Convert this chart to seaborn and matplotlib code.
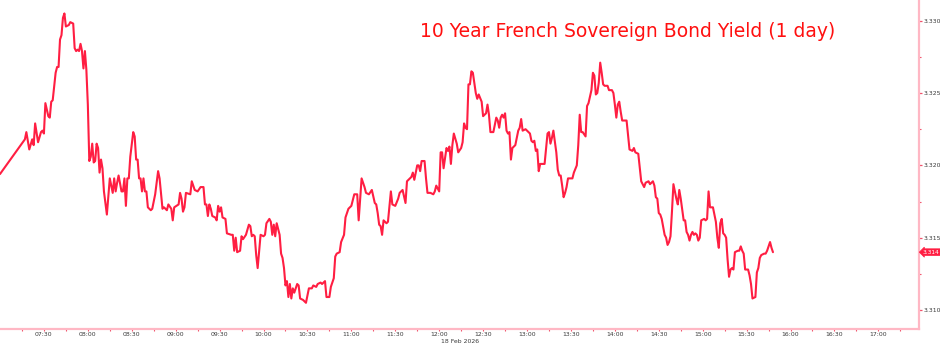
import matplotlib
matplotlib.use("Agg")
import matplotlib.pyplot as plt
import matplotlib.dates as mdates
from matplotlib.ticker import MultipleLocator, FormatStrFormatter
import seaborn as sns
import pandas as pd

# ---------------- data ----------------
DAY = "2026-02-18"
TITLE = "10 Year French Sovereign Bond Yield (1 day)"
DATE_LABEL = "18 Feb 2026"
LAST_LABEL = "3.314"

times = [
    "07:00", "07:17", "07:18", "07:20", "07:22", "07:23", "07:24", "07:26", "07:28", "07:29",
    "07:30", "07:31", "07:33", "07:34", "07:35", "07:36", "07:38", "07:39", "07:40", "07:41",
    "07:42", "07:43", "07:44", "07:45", "07:47", "07:48", "07:50", "07:51", "07:52", "07:53",
    "07:54", "07:55", "07:56", "07:57", "07:58", "07:59", "08:00", "08:01", "08:02", "08:03",
    "08:04", "08:05", "08:06", "08:07", "08:08", "08:09", "08:10", "08:11", "08:13", "08:15",
    "08:16", "08:17", "08:18", "08:19", "08:20", "08:21", "08:23", "08:24", "08:25", "08:26",
    "08:27", "08:28", "08:29", "08:31", "08:32", "08:33", "08:34", "08:35", "08:36", "08:37",
    "08:38", "08:39", "08:40", "08:41", "08:43", "08:44", "08:46", "08:48", "08:49", "08:51",
    "08:52", "08:54", "08:55", "08:57", "08:58", "08:59", "09:02", "09:03", "09:04", "09:05",
    "09:06", "09:07", "09:10", "09:11", "09:13", "09:15", "09:17", "09:19", "09:20", "09:21",
    "09:22", "09:23", "09:24", "09:25", "09:27", "09:28", "09:29", "09:30", "09:31", "09:32",
    "09:34", "09:35", "09:38", "09:39", "09:40", "09:41", "09:42", "09:44", "09:45", "09:46",
    "09:48", "09:50", "09:51", "09:52", "09:53", "09:54", "09:55", "09:56", "09:58", "10:00",
    "10:01", "10:02", "10:04", "10:05", "10:06", "10:07", "10:08", "10:09", "10:11", "10:12",
    "10:13", "10:14", "10:15", "10:16", "10:17", "10:18", "10:19", "10:20", "10:21", "10:22",
    "10:23", "10:24", "10:25", "10:27", "10:29", "10:31", "10:33", "10:34", "10:36", "10:37",
    "10:39", "10:40", "10:42", "10:43", "10:45", "10:46", "10:48", "10:49", "10:50", "10:52",
    "10:53", "10:55", "10:56", "10:58", "10:59", "11:00", "11:02", "11:04", "11:05", "11:07",
    "11:09", "11:10", "11:12", "11:14", "11:16", "11:17", "11:18", "11:19", "11:20", "11:21",
    "11:22", "11:24", "11:25", "11:27", "11:28", "11:30", "11:32", "11:33", "11:35", "11:37",
    "11:38", "11:40", "11:41", "11:42", "11:43", "11:45", "11:46", "11:47", "11:48", "11:50",
    "11:51", "11:52", "11:54", "11:56", "11:57", "11:58", "12:00", "12:01", "12:02", "12:03",
    "12:05", "12:06", "12:07", "12:08", "12:09", "12:10", "12:12", "12:13", "12:15", "12:16",
    "12:17", "12:18", "12:19", "12:20", "12:21", "12:22", "12:23", "12:25", "12:26", "12:27",
    "12:29", "12:30", "12:32", "12:33", "12:34", "12:35", "12:37", "12:39", "12:40", "12:41",
    "12:42", "12:43", "12:44", "12:45", "12:46", "12:47", "12:48", "12:49", "12:50", "12:52",
    "12:53", "12:54", "12:55", "12:56", "12:57", "12:59", "13:00", "13:01", "13:02", "13:03",
    "13:04", "13:05", "13:06", "13:07", "13:08", "13:09", "13:10", "13:12", "13:14", "13:15",
    "13:16", "13:17", "13:18", "13:20", "13:21", "13:22", "13:23", "13:24", "13:25", "13:26",
    "13:27", "13:28", "13:29", "13:31", "13:32", "13:34", "13:35", "13:36", "13:37", "13:38",
    "13:40", "13:41", "13:42", "13:44", "13:45", "13:46", "13:47", "13:48", "13:49", "13:50",
    "13:51", "13:52", "13:53", "13:55", "13:56", "13:58", "13:59", "14:00", "14:01", "14:02",
    "14:03", "14:04", "14:05", "14:08", "14:10", "14:12", "14:13", "14:14", "14:16", "14:18",
    "14:20", "14:21", "14:23", "14:24", "14:26", "14:27", "14:28", "14:29", "14:30", "14:31",
    "14:32", "14:34", "14:35", "14:36", "14:37", "14:38", "14:39", "14:40", "14:41", "14:42",
    "14:43", "14:44", "14:45", "14:47", "14:48", "14:49", "14:50", "14:51", "14:52", "14:53",
    "14:54", "14:55", "14:56", "14:57", "14:58", "14:59", "15:01", "15:02", "15:03", "15:04",
    "15:05", "15:07", "15:09", "15:10", "15:11", "15:12", "15:13", "15:14", "15:15", "15:16",
    "15:17", "15:18", "15:19", "15:20", "15:21", "15:22", "15:24", "15:25", "15:26", "15:27",
    "15:28", "15:29", "15:31", "15:32", "15:33", "15:34", "15:36", "15:37", "15:38", "15:39",
    "15:40", "15:42", "15:43", "15:44", "15:46", "15:47", "15:48",
]

yields = [
    3.3194, 3.3218, 3.3223, 3.3211, 3.3218, 3.3214, 3.3229, 3.3216, 3.3223, 3.3224,
    3.3222, 3.3243, 3.3234, 3.3233, 3.3244, 3.3245, 3.3264, 3.3268, 3.3268, 3.3287,
    3.3290, 3.3302, 3.3305, 3.3296, 3.3297, 3.3299, 3.3298, 3.3281, 3.3279, 3.3280,
    3.3279, 3.3284, 3.3279, 3.3267, 3.3279, 3.3266, 3.3242, 3.3203, 3.3206, 3.3215,
    3.3202, 3.3203, 3.3215, 3.3212, 3.3195, 3.3204, 3.3198, 3.3182, 3.3166, 3.3191,
    3.3186, 3.3181, 3.3191, 3.3182, 3.3188, 3.3193, 3.3182, 3.3182, 3.3191, 3.3172,
    3.3191, 3.3191, 3.3206, 3.3223, 3.3220, 3.3204, 3.3204, 3.3191, 3.3191, 3.3182,
    3.3191, 3.3182, 3.3182, 3.3171, 3.3169, 3.3170, 3.3180, 3.3196, 3.3191, 3.3170,
    3.3171, 3.3169, 3.3173, 3.3170, 3.3162, 3.3171, 3.3173, 3.3181, 3.3177, 3.3168,
    3.3171, 3.3181, 3.3180, 3.3189, 3.3183, 3.3182, 3.3185, 3.3185, 3.3173, 3.3173,
    3.3165, 3.3173, 3.3170, 3.3165, 3.3164, 3.3162, 3.3172, 3.3168, 3.3171, 3.3164,
    3.3163, 3.3153, 3.3152, 3.3152, 3.3141, 3.3150, 3.3140, 3.3141, 3.3151, 3.3149,
    3.3152, 3.3159, 3.3158, 3.3151, 3.3152, 3.3151, 3.3138, 3.3129, 3.3152, 3.3151,
    3.3152, 3.3160, 3.3163, 3.3161, 3.3152, 3.3159, 3.3151, 3.3160, 3.3152, 3.3139,
    3.3136, 3.3129, 3.3117, 3.3120, 3.3109, 3.3118, 3.3108, 3.3115, 3.3112, 3.3115,
    3.3118, 3.3117, 3.3108, 3.3107, 3.3105, 3.3115, 3.3115, 3.3117, 3.3116, 3.3118,
    3.3119, 3.3118, 3.3120, 3.3109, 3.3109, 3.3116, 3.3122, 3.3137, 3.3139, 3.3140,
    3.3147, 3.3152, 3.3164, 3.3170, 3.3171, 3.3172, 3.3180, 3.3180, 3.3162, 3.3191,
    3.3185, 3.3181, 3.3180, 3.3183, 3.3174, 3.3173, 3.3167, 3.3159, 3.3158, 3.3152,
    3.3162, 3.3160, 3.3161, 3.3182, 3.3173, 3.3172, 3.3177, 3.3181, 3.3183, 3.3174,
    3.3189, 3.3191, 3.3192, 3.3195, 3.3190, 3.3200, 3.3200, 3.3196, 3.3203, 3.3203,
    3.3191, 3.3181, 3.3181, 3.3180, 3.3182, 3.3186, 3.3182, 3.3209, 3.3209, 3.3198,
    3.3212, 3.3210, 3.3213, 3.3201, 3.3214, 3.3222, 3.3215, 3.3209, 3.3212, 3.3216,
    3.3229, 3.3226, 3.3225, 3.3256, 3.3256, 3.3265, 3.3264, 3.3250, 3.3246, 3.3249,
    3.3244, 3.3234, 3.3236, 3.3242, 3.3235, 3.3223, 3.3223, 3.3233, 3.3231, 3.3226,
    3.3233, 3.3235, 3.3233, 3.3236, 3.3224, 3.3222, 3.3223, 3.3204, 3.3212, 3.3214,
    3.3219, 3.3224, 3.3226, 3.3232, 3.3224, 3.3225, 3.3224, 3.3223, 3.3222, 3.3217,
    3.3216, 3.3217, 3.3210, 3.3211, 3.3196, 3.3201, 3.3201, 3.3201, 3.3222, 3.3223,
    3.3215, 3.3219, 3.3224, 3.3209, 3.3197, 3.3193, 3.3193, 3.3186, 3.3178, 3.3181,
    3.3185, 3.3191, 3.3191, 3.3191, 3.3195, 3.3200, 3.3214, 3.3235, 3.3223, 3.3223,
    3.3220, 3.3241, 3.3243, 3.3252, 3.3264, 3.3262, 3.3249, 3.3250, 3.3257, 3.3271,
    3.3264, 3.3256, 3.3255, 3.3255, 3.3252, 3.3252, 3.3250, 3.3242, 3.3233, 3.3242,
    3.3244, 3.3237, 3.3231, 3.3231, 3.3211, 3.3210, 3.3212, 3.3209, 3.3208, 3.3189,
    3.3185, 3.3188, 3.3189, 3.3187, 3.3189, 3.3186, 3.3178, 3.3177, 3.3167, 3.3166,
    3.3163, 3.3152, 3.3150, 3.3145, 3.3147, 3.3151, 3.3168, 3.3187, 3.3182, 3.3177,
    3.3173, 3.3183, 3.3177, 3.3162, 3.3162, 3.3154, 3.3152, 3.3148, 3.3152, 3.3154,
    3.3152, 3.3153, 3.3152, 3.3148, 3.3150, 3.3162, 3.3163, 3.3162, 3.3163, 3.3182,
    3.3171, 3.3171, 3.3161, 3.3150, 3.3143, 3.3160, 3.3163, 3.3153, 3.3152, 3.3150,
    3.3135, 3.3123, 3.3128, 3.3129, 3.3128, 3.3140, 3.3141, 3.3141, 3.3144, 3.3141,
    3.3139, 3.3128, 3.3128, 3.3124, 3.3118, 3.3108, 3.3109, 3.3126, 3.3129, 3.3136,
    3.3138, 3.3139, 3.3139, 3.3141, 3.3147, 3.3143, 3.3140,
]

# axis settings
x_start, x_end = "07:00", "17:27:45"
y_min, y_max = 3.30869, 3.33143
y_major, y_minor = 0.005, 0.0025

# ---------------- styling ----------------
LINE = "#ff1e42"
SPINE = "#ffb7c4"
TICK = "#f0506a"
LABEL = "#3a3a3a"
TITLE_C = "#ff1010"

df = pd.DataFrame({
    "time": pd.to_datetime([f"{DAY} {t}" for t in times]),
    "yield": yields,
})

sns.set_theme(style="white")
plt.rcParams["font.family"] = ["DejaVu Sans"]

W, H = 940, 346
fig = plt.figure(figsize=(W / 100, H / 100), dpi=100)
ax = fig.add_axes([0.0, 1 - 329 / H, 919 / W, 329 / H])

sns.lineplot(data=df, x="time", y="yield", ax=ax, color=LINE, linewidth=1.5)

ax.set_xlim(pd.Timestamp(f"{DAY} {x_start}"), pd.Timestamp(f"{DAY} {x_end}"))
ax.set_ylim(y_min, y_max)
ax.set_xlabel("")
ax.set_ylabel("")

for s in ("left", "top"):
    ax.spines[s].set_visible(False)
for s in ("right", "bottom"):
    ax.spines[s].set_visible(True)
    ax.spines[s].set_color(SPINE)
    ax.spines[s].set_linewidth(1.6)

# y axis on the right
ax.yaxis.tick_right()
ax.yaxis.set_major_locator(MultipleLocator(y_major))
ax.yaxis.set_minor_locator(MultipleLocator(y_minor))
ax.yaxis.set_major_formatter(FormatStrFormatter("%.3f"))
ax.tick_params(axis="y", which="both", direction="out", colors=TICK,
               labelcolor=LABEL, labelsize=4.4, pad=0.8, right=True, left=False)
ax.tick_params(axis="y", which="major", length=2.2, width=0.9)
ax.tick_params(axis="y", which="minor", length=1.2, width=0.8)

# x axis
major_ticks = pd.date_range(f"{DAY} 07:30", f"{DAY} 17:00", freq="30min")
minor_ticks = pd.date_range(f"{DAY} 07:15", f"{DAY} 17:15", freq="30min")
ax.set_xticks(major_ticks)
ax.set_xticks(minor_ticks, minor=True)
ax.xaxis.set_major_formatter(mdates.DateFormatter("%H:%M"))
ax.tick_params(axis="x", which="both", direction="out", colors=TICK,
               labelcolor=LABEL, labelsize=4.4, pad=0.8, bottom=True)
ax.tick_params(axis="x", which="major", length=1.6, width=0.8)
ax.tick_params(axis="x", which="minor", length=1.6, width=0.8)

ax.grid(False)

# date under the axis
ax.annotate(DATE_LABEL, xy=(pd.Timestamp(f"{DAY} 12:00"), 0), xycoords=("data", "figure fraction"),
            xytext=(1, 1.2), textcoords="offset points", ha="left", va="bottom",
            fontsize=4.4, color=LABEL, annotation_clip=False)

# title
fig.text(420 / W, 1 - 36.7 / H, TITLE, color=TITLE_C, fontsize=13.5,
         ha="left", va="baseline")

# last value flag
ax.annotate(LAST_LABEL, xy=(1.0, yields[-1]), xycoords=("axes fraction", "data"),
            xytext=(2.8, 0), textcoords="offset points", ha="left", va="center",
            fontsize=4.2, color="white", annotation_clip=False,
            bbox=dict(boxstyle="larrow,pad=0.15", fc=LINE, ec=LINE, lw=0.5))

fig.savefig("out.png", dpi=100)
